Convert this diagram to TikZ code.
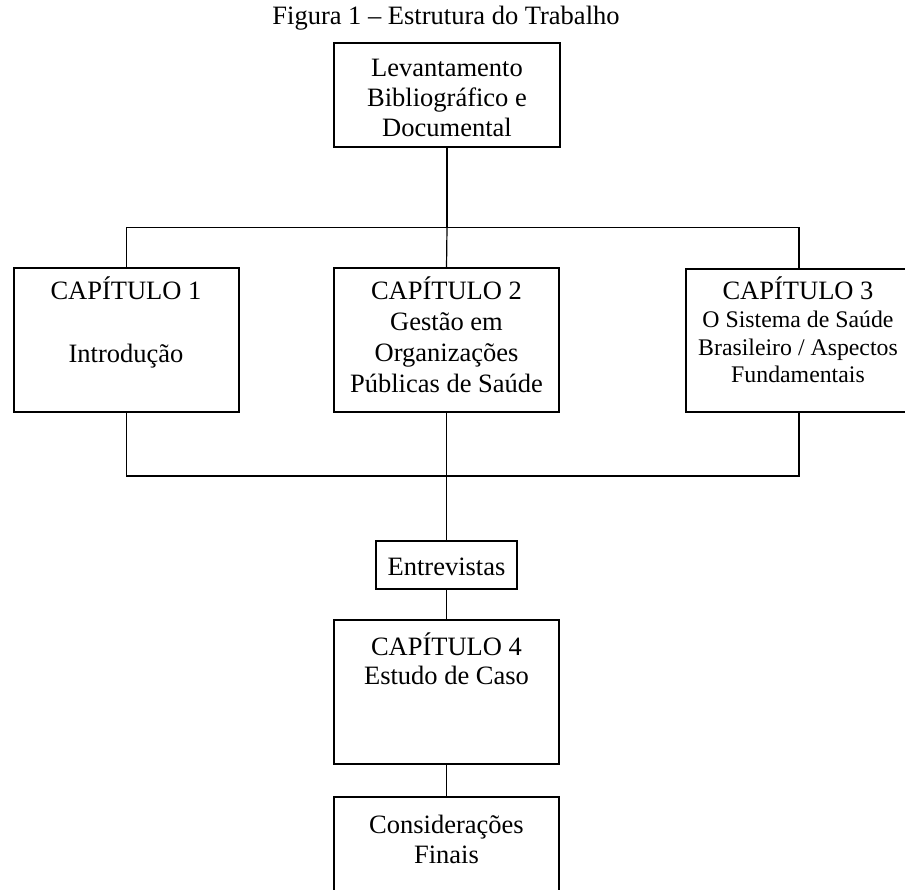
\documentclass[tikz,border=0pt]{standalone}
\usepackage{fontspec}
\setmainfont{Liberation Serif}
\begin{document}
\begin{tikzpicture}[x=1pt,y=-1pt,
  box/.style={draw,line width=1.9pt,inner sep=0pt,outer sep=0pt,minimum width=225pt},
  wire/.style={line width=1.2pt},
  txt/.style={anchor=base,align=center,inner sep=0pt,font=\fontsize{26.5}{30}\selectfont},
  small/.style={anchor=base,align=center,inner sep=0pt,font=\fontsize{23.8}{27.5}\selectfont}]
\clip (0,0) rectangle (905,890);

% title
\node[txt] (title) at (446,25) {Figura 1 -- Estrutura do Trabalho};

% boxes
\node[box,minimum width=226pt,minimum height=104pt] (top) at (447,95) {};
\node[box,minimum height=144pt] (c1) at (126.5,340) {};
\node[box,minimum height=144pt] (c2) at (446.5,340) {};
\node[box,minimum width=226pt,minimum height=143pt] (c3) at (799,340.5) {};
\node[box,minimum width=141pt,minimum height=48pt] (ent) at (446.5,565) {};
\node[box,minimum height=144pt] (c4) at (446.5,692) {};
\node[box,minimum height=144pt] (cf) at (446.5,869) {};

% box texts (a multi-line node sits on the baseline of its last line)
\node[txt] (ttop) at (447,137) {Levantamento\\Bibliográfico e\\Documental};
\node[txt] (t1a) at (126,300) {CAPÍTULO 1};
\node[txt] (t1b) at (126,363) {Introdução};
\node[txt,font=\fontsize{26.5}{30.7}\selectfont] (t2) at (446.5,392) {CAPÍTULO 2\\Gestão em\\Organizações\\Públicas de Saúde};
\node[txt] (t3a) at (798,300) {CAPÍTULO 3};
\node[small] (t3b) at (798,383) {O Sistema de Saúde\\Brasileiro / Aspectos\\Fundamentais};
\node[txt] (tent) at (446.5,575) {Entrevistas};
\node[txt,font=\fontsize{26.5}{29}\selectfont] (t4) at (446.5,684) {CAPÍTULO 4\\Estudo de Caso};
\node[txt] (tf) at (446.5,863) {Considerações\\Finais};

% junctions
\coordinate (jt) at (447,227.5);
\coordinate (jb) at (446.5,476);

% connectors
\draw[wire] (top.south) -- (jt);
\draw[wire] (c1.north) |- (jt) -| (c3.north);
\draw[wire] (jt) -- (c2.north);
\draw[wire] (c1.south) |- (jb) -| (c3.south);
\draw[wire] (c2.south) -- (ent.north);
\draw[wire] (ent.south) -- (c4.north);
\draw[wire] (c4.south) -- (cf.north);
\end{tikzpicture}
\end{document}
